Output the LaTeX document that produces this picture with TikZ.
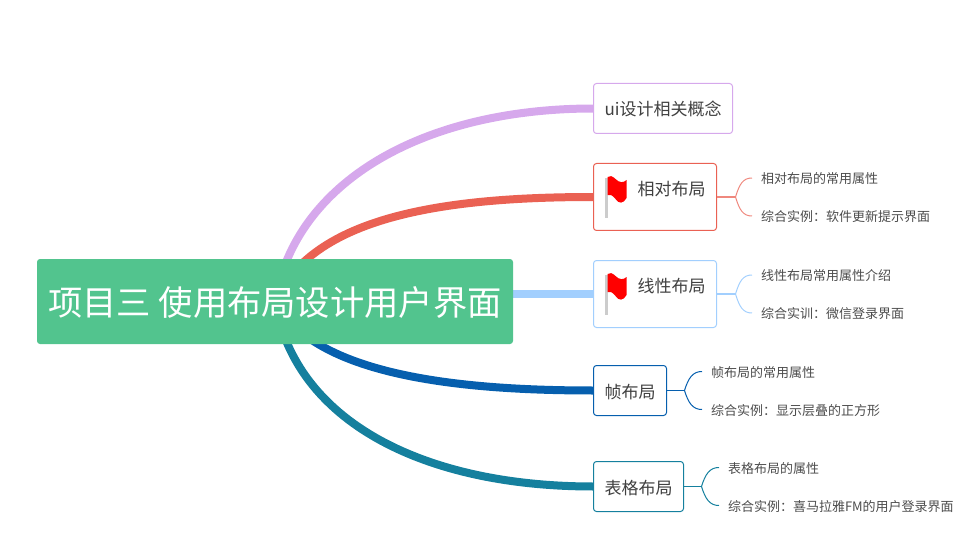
\documentclass[tikz,border=0pt]{standalone}
\usepackage{fontspec}
\setmainfont{Noto Sans CJK SC}
\usetikzlibrary{positioning, backgrounds}
\definecolor{rootGreen}{HTML}{52C48E}
\definecolor{uiPink}{HTML}{D6A8EC}
\definecolor{relRed}{HTML}{EA6153}
\definecolor{linBlue}{HTML}{A2CFFE}
\definecolor{frameBlue}{HTML}{065FAE}
\definecolor{tableTeal}{HTML}{15809E}
\tikzstyle{root} = [
rectangle,
rounded corners=3pt,
fill=rootGreen,
text=white,
font=\fontsize{34.3}{40}\selectfont,
text height=30pt,
text depth=2pt,
minimum width=476pt,
minimum height=85pt,
inner sep=0pt]
\tikzstyle{topic} = [
rectangle,
rounded corners=3pt,
draw,
fill=white,
text=black!75,
font=\fontsize{17}{20}\selectfont,
text height=17pt,
text depth=2pt,
minimum height=50pt,
inner xsep=10.5pt,
inner ysep=0pt,
outer sep=0pt,
line width=1pt]
\tikzstyle{flagged} = [
minimum height=67pt,
text height=14pt,
text depth=17pt]
\tikzstyle{leaf} = [
text=black!70,
font=\fontsize{13}{16}\selectfont,
text height=13pt,
text depth=1.2pt,
inner sep=0pt,
outer sep=0pt]
\tikzstyle{branch} = [
line width=8pt]
\tikzstyle{twig} = [
line width=1pt]
\tikzset{
redflag/.pic={
\fill[black!20] (-1.2,2) rectangle (1,42);
\fill[red] (1,1) .. controls (3,-1) and (6,0) .. (9,3)
    .. controls (13,7) and (17,7) .. (20,4)
    -- (20,22) .. controls (17,28) and (12,28) .. (9,23)
    .. controls (6,19) and (3,18) .. (1,19) -- cycle;
}}

\begin{document}
\begin{tikzpicture}[x=1pt, y=-1pt, node distance=30pt]
\useasboundingbox (0,0) rectangle (969,556);

\node[root] (project) at (275,301.5) {项目三 使用布局设计用户界面};

\node[topic, draw=uiPink, anchor=north west, minimum width=139pt] (ui) at (593.5,83.5) {ui设计相关概念};
\node[topic, flagged, draw=relRed, below=of ui.south west, anchor=north west, minimum width=123pt] (relative) {\hspace*{33pt}相对布局};
\node[topic, flagged, draw=linBlue, below=of relative.south west, anchor=north west, minimum width=123pt] (linear) {\hspace*{33pt}线性布局};
\node[topic, draw=frameBlue, below=38pt of linear.south west, anchor=north west, minimum width=73pt] (frame) {帧布局};
\node[topic, draw=tableTeal, below=46pt of frame.south west, anchor=north west, minimum width=90pt] (table) {表格布局};

\pic at (606.5,176) {redflag};
\pic at (606.5,273) {redflag};

\coordinate[right=19pt of relative.east] (relativeFork);
\coordinate[right=19pt of linear.east] (linearFork);
\coordinate[right=18pt of frame.east] (frameFork);
\coordinate[right=18pt of table.east] (tableFork);

\node[leaf, anchor=west] (relativeA) at (761,178) {相对布局的常用属性};
\node[leaf, below=38pt of relativeA.west, anchor=west] (relativeB) {综合实例：软件更新提示界面};
\node[leaf, anchor=west] (linearA) at (761,275) {线性布局常用属性介绍};
\node[leaf, below=38pt of linearA.west, anchor=west] (linearB) {综合实训：微信登录界面};
\node[leaf, anchor=west] (frameA) at (711,371.5) {帧布局的常用属性};
\node[leaf, below=38pt of frameA.west, anchor=west] (frameB) {综合实例：显示层叠的正方形};
\node[leaf, anchor=west] (tableA) at (728,467.5) {表格布局的属性};
\node[leaf, below=38pt of tableA.west, anchor=west] (tableB) {综合实例：喜马拉雅FM的用户登录界面};

\begin{scope}[on background layer]
\draw[branch, uiPink] (project.center) .. controls +(20,-120) and +(-170,0) .. (ui.west);
\draw[branch, relRed] (project.center) .. controls +(38,-85) and +(-150,0) .. (relative.west);
\draw[branch, linBlue] (project.east |- linear.west) -- (linear.west);
\draw[branch, frameBlue] (project.center) .. controls +(38,70) and +(-150,0) .. (frame.west);
\draw[branch, tableTeal] (project.center) .. controls +(20,120) and +(-170,0) .. (table.west);
\end{scope}

\draw[twig, relRed!75, line width=1.6pt] (relative.east) -- (relativeFork);
\draw[twig, relRed!75] (relativeFork) .. controls +(4,-13) and +(-9,0) .. ([xshift=-9pt]relativeA.west);
\draw[twig, relRed!75] (relativeFork) .. controls +(4,13) and +(-9,0) .. ([xshift=-9pt]relativeB.west);
\draw[twig, linBlue, line width=1.6pt] (linear.east) -- (linearFork);
\draw[twig, linBlue] (linearFork) .. controls +(4,-13) and +(-9,0) .. ([xshift=-9pt]linearA.west);
\draw[twig, linBlue] (linearFork) .. controls +(4,13) and +(-9,0) .. ([xshift=-9pt]linearB.west);
\draw[twig, frameBlue] (frame.east) -- (frameFork);
\draw[twig, frameBlue] (frameFork) .. controls +(4,-13) and +(-9,0) .. ([xshift=-9pt]frameA.west);
\draw[twig, frameBlue] (frameFork) .. controls +(4,13) and +(-9,0) .. ([xshift=-9pt]frameB.west);
\draw[twig, tableTeal] (table.east) -- (tableFork);
\draw[twig, tableTeal] (tableFork) .. controls +(4,-13) and +(-9,0) .. ([xshift=-9pt]tableA.west);
\draw[twig, tableTeal] (tableFork) .. controls +(4,13) and +(-9,0) .. ([xshift=-9pt]tableB.west);

\end{tikzpicture}
\end{document}
